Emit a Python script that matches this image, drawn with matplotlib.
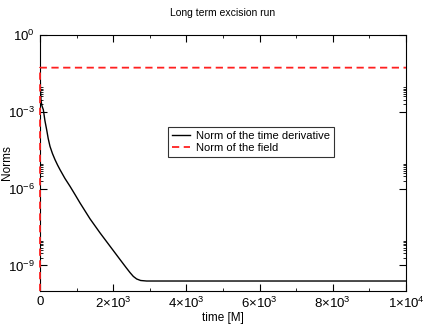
import numpy as np
import matplotlib
matplotlib.use("Agg")
import matplotlib.pyplot as plt
from matplotlib.ticker import FixedLocator, FuncFormatter

# values (log10 of the norm)
t_deriv = [0, 5, 12, 27, 50, 91, 135, 182, 225, 273, 340, 410, 480, 546, 680, 820, 960, 1093, 1366, 1640,
           1913, 2186, 2350, 2459, 2550, 2641, 2750, 2914, 3200, 10000]
log_deriv = [-0.8, -1.5, -2.1, -2.55, -2.75, -2.92, -3.35, -3.7, -4.05, -4.35, -4.63, -4.87, -5.08, -5.26,
             -5.6, -5.91, -6.24, -6.56, -7.18, -7.73, -8.25, -8.77, -9.08, -9.28, -9.43, -9.53, -9.59,
             -9.61, -9.61, -9.61]
t_field = [0, 1, 10000]
n_field = [1e-10, 0.053, 0.053]

plt.rcParams["font.family"] = ["Liberation Sans", "DejaVu Sans"]
plt.rcParams["mathtext.fontset"] = "custom"
plt.rcParams["mathtext.rm"] = "Liberation Sans"
plt.rcParams["mathtext.it"] = "Liberation Sans"

fig = plt.figure(figsize=(4.25, 3.27), dpi=100)
ax = fig.add_axes([40 / 425, 36 / 327, 366 / 425, 256 / 327])

ax.plot(t_deriv, 10.0 ** np.array(log_deriv), color="black", lw=1.0,
        label="Norm of the time derivative")
ax.plot(t_field, n_field, color="#ff2020", lw=1.3, ls=(0, (4, 2.5)),
        label="Norm of the field", zorder=5, clip_on=False)

ax.set_yscale("log")
ax.set_xlim(0, 10000)
ax.set_ylim(1e-10, 1)

ax.yaxis.set_major_locator(FixedLocator([1e-9, 1e-6, 1e-3, 1e0]))
minors = [k * 10.0 ** e for e in (-9, -6, -3) for k in range(2, 10)]
ax.yaxis.set_minor_locator(FixedLocator(minors))
ax.yaxis.set_major_formatter(FuncFormatter(lambda v, p: r"$10^{%d}$" % round(np.log10(v))))
ax.yaxis.set_minor_formatter(FuncFormatter(lambda v, p: ""))

ax.xaxis.set_major_locator(FixedLocator([0, 2000, 4000, 6000, 8000, 10000]))
ax.xaxis.set_minor_locator(FixedLocator([1000, 3000, 5000, 7000, 9000]))


def xfmt(v, p):
    if v <= 0:
        return "0"
    e = int(np.floor(np.log10(v)))
    m = v / 10 ** e
    return r"$%d{\times}10^{%d}$" % (round(m), e)


ax.xaxis.set_major_formatter(FuncFormatter(xfmt))

ax.tick_params(which="both", direction="in", top=True, right=True, labelsize=9.5)
ax.tick_params(which="major", length=5)
ax.tick_params(which="minor", length=2.5)

ax.set_xlabel("time [M]", fontsize=8.5, labelpad=1)
ax.set_ylabel("Norms", fontsize=8.5)
ax.yaxis.set_label_coords(-0.075, 0.5)
ax.set_title("Long term excision run", fontsize=7.5, pad=14)

leg = ax.legend(loc="upper left", bbox_to_anchor=(0.35, 0.64), borderaxespad=0, fontsize=8,
                frameon=True, fancybox=False, edgecolor="black", handlelength=1.6,
                borderpad=0.35, labelspacing=0.2, handletextpad=0.6)
leg.get_frame().set_linewidth(0.8)

fig.savefig("out.png", dpi=100)
